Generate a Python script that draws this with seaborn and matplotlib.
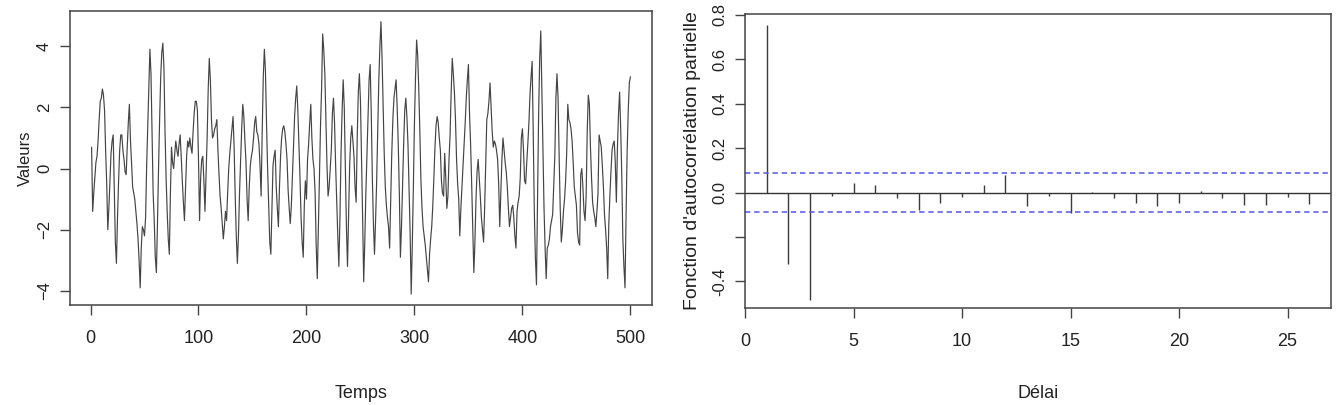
import numpy as np
import matplotlib
matplotlib.use("Agg")
import matplotlib.pyplot as plt
import seaborn as sns

# serie temporelle (t = 1..500)
valeurs_001_100 = [
    0.7, -1.4, -0.8, -0.3, 0.2, 0.4, 0.9, 1.6, 2.2, 2.3,
    2.6, 2.4, 1.9, 0.6, -0.5, -2.0, -1.3, -0.4, 0.5, 0.9,
    1.1, -0.6, -2.4, -3.1, -1.6, -0.4, 0.6, 1.1, 1.1, 0.6,
    0.3, -0.1, -0.2, 0.7, 1.5, 2.1, 0.9, 0.2, -0.6, -0.8,
    -1.0, -1.4, -1.8, -2.3, -3.0, -3.9, -2.6, -1.9, -2.0, -2.2,
    -1.6, 0.1, 1.4, 2.8, 3.9, 3.1, 1.2, -0.8, -1.7, -2.9,
    -3.4, -1.8, 0.0, 1.6, 3.0, 3.8, 4.1, 3.3, 1.2, -0.3,
    -1.4, -2.3, -2.8, -0.8, 0.7, 0.2, 0.0, 0.5, 0.9, 0.6,
    0.4, 0.8, 1.1, 0.4, -0.4, -1.1, -1.7, -0.6, 0.4, 0.9,
    0.7, 1.0, 0.7, 0.5, 1.2, 1.8, 2.2, 2.2, 1.9, 0.3,
]
valeurs_101_200 = [
    -1.7, -0.3, 0.3, 0.4, -0.4, -1.4, -0.2, 1.0, 2.6, 3.6,
    2.9, 1.6, 1.0, 1.1, 1.3, 1.4, 1.6, 0.6, -0.2, -0.9,
    -1.3, -1.8, -2.3, -1.9, -1.4, -1.7, -0.8, 0.0, 0.5, 0.9,
    1.3, 1.7, 0.7, -0.9, -2.2, -3.1, -2.2, -0.8, 0.3, 1.3,
    2.1, 1.7, 0.9, 0.2, -1.0, -1.7, -0.6, 0.1, 0.4, 0.6,
    1.0, 1.5, 1.7, 1.2, 1.1, 0.8, 0.1, -0.9, 1.2, 3.0,
    3.9, 3.2, 1.5, 0.0, -1.2, -2.4, -2.8, -1.3, 0.1, 0.4,
    0.6, -0.6, -1.3, -1.9, -0.6, 0.4, 1.0, 1.3, 1.4, 1.2,
    0.8, 0.3, -0.7, -1.3, -1.8, -1.2, -0.2, 0.9, 1.7, 2.3,
    2.7, 1.9, 0.8, -0.3, -1.6, -2.4, -2.9, -1.2, -0.4, -1.0,
]
valeurs_201_300 = [
    0.3, 0.8, 1.5, 2.1, 1.0, 0.3, 0.0, -0.8, -2.5, -3.6,
    -2.0, -0.3, 1.4, 2.6, 4.4, 3.9, 3.1, 1.6, 0.1, -0.9,
    -0.6, 0.0, 0.6, 1.8, 2.3, 1.5, 0.1, -1.1, -2.2, -3.2,
    -1.6, 0.5, 1.9, 2.9, 2.0, 0.0, -1.9, -3.2, -1.6, 0.1,
    1.0, 1.4, 0.9, 0.4, -0.6, -1.1, 1.0, 2.5, 3.1, 2.2,
    0.3, -1.6, -3.7, -2.4, -0.8, 0.4, 1.7, 2.9, 3.4, 1.8,
    -0.3, -1.8, -2.8, -1.7, -0.4, 1.2, 2.9, 4.0, 4.8, 3.6,
    2.1, 0.5, -0.6, -1.2, -1.6, -1.9, -2.6, -1.1, 0.5, 1.6,
    2.3, 2.6, 2.9, 2.0, 0.8, -0.8, -2.9, -1.9, -0.5, 0.8,
    1.9, 2.3, 1.7, 0.8, -0.6, -2.1, -4.1, -2.5, -0.6, 1.5,
]
valeurs_301_400 = [
    3.0, 4.2, 3.7, 2.6, 1.2, -0.4, -1.3, -1.9, -2.2, -2.5,
    -2.9, -3.3, -3.7, -2.8, -2.3, -1.9, -1.2, -0.3, 0.7, 1.4,
    1.7, 1.5, 1.0, 0.6, -0.4, -0.8, -0.9, 0.5, -0.3, -1.3,
    -0.9, 0.3, 1.1, 2.5, 3.6, 3.1, 2.5, 1.6, 0.3, -0.5,
    -1.0, -2.2, -1.3, -0.6, 0.1, 0.8, 1.5, 2.3, 2.9, 3.4,
    1.8, 0.8, -0.5, -2.0, -3.4, -2.4, -1.0, -0.1, 0.3, -0.3,
    -0.9, -1.6, -2.0, -2.4, -1.3, 0.2, 1.6, 1.8, 2.2, 2.8,
    2.0, 1.2, 0.7, 0.9, 0.8, 0.6, 0.3, -0.5, -1.9, -0.8,
    0.3, 1.0, 0.6, 0.2, -0.1, -0.6, -1.3, -1.9, -1.6, -1.3,
    -1.2, -1.6, -2.2, -2.6, -1.4, -1.1, -0.9, -0.3, 1.0, 1.3,
]
valeurs_401_500 = [
    0.6, -0.4, -0.5, 0.2, 0.8, 1.5, 2.4, 3.0, 3.5, 1.2,
    -1.4, -2.9, -3.8, -1.0, 1.8, 3.6, 4.5, 2.6, 0.6, -1.3,
    -2.6, -3.6, -2.6, -2.5, -2.3, -1.9, -1.7, -1.5, -0.5, 0.4,
    2.3, 3.1, 2.3, 0.4, -1.3, -2.4, -2.0, -1.4, -1.0, -0.4,
    0.5, 2.1, 1.6, 1.5, 1.3, 0.9, 0.2, -0.6, -0.9, -1.2,
    -2.1, -2.4, -2.5, -0.2, 0.0, -0.6, -1.4, -1.7, -0.9, 1.2,
    2.4, 2.1, 0.7, -0.3, -1.1, -1.4, -1.6, -1.9, -1.4, -0.8,
    1.1, 0.9, 0.7, 0.1, -0.6, -1.5, -2.0, -2.6, -3.6, -1.8,
    -0.9, -0.1, 0.6, 0.8, 0.9, 0.2, -1.1, 0.7, 1.8, 2.5,
    1.3, -0.2, -2.3, -3.2, -3.9, -1.5, 0.6, 1.9, 2.8, 3.0,
]
valeurs = np.array(valeurs_001_100 + valeurs_101_200 + valeurs_201_300
                   + valeurs_301_400 + valeurs_401_500)
temps = np.arange(1, len(valeurs) + 1)

# autocorrelation partielle, retards 1..26
delais = np.arange(1, 27)
pacf = [0.754, -0.324, -0.482, -0.015, 0.042, 0.035, -0.026, -0.078, -0.048, -0.021,
        0.035, 0.077, -0.059, -0.015, -0.093, 0.003, -0.023, -0.048, -0.060, -0.045,
        0.005, -0.023, -0.056, -0.056, -0.020, -0.050]
seuil = 0.0877

x_ticks_g = [0, 100, 200, 300, 400, 500]
y_ticks_g = [-4, -2, 0, 2, 4]
x_ticks_d = [0, 5, 10, 15, 20, 25]
y_ticks_d = [-0.4, -0.2, 0.0, 0.2, 0.4, 0.6, 0.8]
y_labels_d = ['-0.4', '', '0.0', '0.2', '0.4', '0.6', '0.8']

sns.set_style("ticks")
narrow = ['Liberation Sans Narrow', 'Liberation Sans', 'DejaVu Sans']
wide = ['Liberation Sans', 'DejaVu Sans']
plt.rcParams['font.family'] = wide

fig = plt.figure(figsize=(13.44, 4.05), dpi=100)
ax1 = fig.add_axes([70 / 1344, 1 - 305 / 405, 582 / 1344, 294 / 405])
ax2 = fig.add_axes([745 / 1344, 1 - 308 / 405, 586 / 1344, 294 / 405])

box = '#444444'

# --- serie ---
sns.lineplot(x=temps, y=valeurs, ax=ax1, color='#444444', linewidth=0.85, estimator=None)
ax1.set_xlim(-19, 520)
ax1.set_ylim(-4.46, 5.15)
ax1.set_xticks(x_ticks_g)
ax1.set_yticks(y_ticks_g)
ax1.set_xlabel('Temps', fontsize=13, family=narrow, labelpad=27)
ax1.set_ylabel('Valeurs', fontsize=12, family=wide, labelpad=3)

# --- pacf ---
ax2.vlines(delais, 0, pacf, color='#3a3a3a', linewidth=1.0)
ax2.axhline(0, color='#333333', linewidth=1.0)
for s in (seuil, -seuil):
    ax2.axhline(s, color='#5555ee', linewidth=1.1, linestyle=(0, (3.5, 2.5)))
ax2.set_xlim(0, 27)
ax2.set_ylim(-0.52, 0.804)
ax2.set_xticks(x_ticks_d)
ax2.set_yticks(y_ticks_d)
ax2.set_yticklabels(y_labels_d)
ax2.set_xlabel('Délai', fontsize=13, family=narrow, labelpad=25)
ax2.set_ylabel("Fonction d'autocorrélation partielle", fontsize=14, family=wide, labelpad=8)

for ax in (ax1, ax2):
    for sp in ax.spines.values():
        sp.set_visible(True)
        sp.set_color(box)
        sp.set_linewidth(1.1)
    ax.tick_params(axis='both', length=7, width=1, color=box, labelcolor='#222222')
    ax.tick_params(axis='x', pad=11)
    ax.tick_params(axis='y', labelrotation=90, pad=6)
    for lbl in ax.get_xticklabels():
        lbl.set_family(narrow)
        lbl.set_fontsize(13)
    for lbl in ax.get_yticklabels():
        lbl.set_fontsize(12)
        lbl.set_va('center')
    ax.xaxis.label.set_color('#222222')
    ax.yaxis.label.set_color('#222222')

fig.savefig('out.png', dpi=100, facecolor='white')
